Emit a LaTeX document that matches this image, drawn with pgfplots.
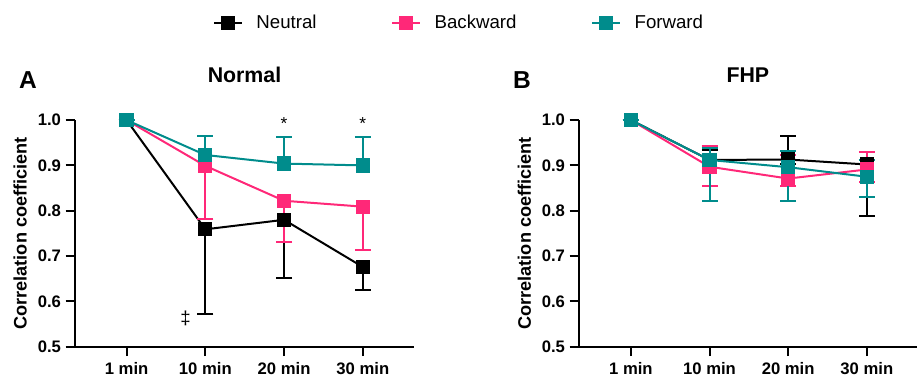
\documentclass[border=0pt]{standalone}
\usepackage{pgfplots}
\pgfplotsset{compat=1.18}
\usepackage{fontspec}
\setmainfont{Liberation Sans}
\definecolor{cpink}{RGB}{255,40,120}
\definecolor{cteal}{RGB}{0,140,140}
\pgfplotsset{
  panel/.style={
    scale only axis,
    width=254.25pt, height=170pt,
    xmin=-0.655, xmax=3.65, ymin=0.5, ymax=1.0,
    axis lines=left, axis line style={line width=1.5pt, -},
    xtick={0,1,2,3}, xticklabels={\textbf{1 min},\textbf{10 min},\textbf{20 min},\textbf{30 min}},
    ytick={0.5,0.6,0.7,0.8,0.9,1.0},
    yticklabels={\textbf{0.5},\textbf{0.6},\textbf{0.7},\textbf{0.8},\textbf{0.9},\textbf{1.0}},
    tick align=outside, major tick length=7pt,
    tick style={line width=1.5pt, black},
    ticklabel style={font=\fontsize{12.5}{14}\selectfont},
    xticklabel style={yshift=-1pt},
    ylabel={\textbf{Correlation coefficient}},
    ylabel style={at={(axis description cs:-0.162,0.5)}, anchor=center, font=\fontsize{13.6}{15}\selectfont},
    title style={at={(axis description cs:0.5,1.129)}, anchor=base, font=\fontsize{16}{18}\selectfont\bfseries},
    clip=false,
    every axis plot/.append style={line width=1.5pt, mark=square*, mark size=4.6pt,
      mark options={solid, line width=0.4pt},
      error bars/error bar style={line width=1.5pt},
      error bars/error mark options={rotate=90, mark size=6pt, line width=1.5pt}},
  },
}
\begin{document}
\begin{tikzpicture}
\path[use as bounding box] (0,0) rectangle (690pt,284.25pt);
\begin{axis}[panel, at={(56.25pt,24.2pt)}, anchor=south west, title={Normal},
  legend columns=3,
  legend style={draw=none, fill=none, at={(axis description cs:1.134,1.428)}, anchor=center,
    font=\fontsize{14}{16}\selectfont,
    /tikz/every odd column/.append style={column sep=8pt},
    /tikz/every even column/.append style={column sep=54pt}},
  legend image code/.code={\draw[mark repeat=2,mark phase=2,#1] plot coordinates {(0pt,0pt) (10.5pt,0pt) (21pt,0pt)};},
]
\addplot[black, mark options={fill=black}, error bars/.cd, y dir=minus, y explicit]
  table[x=x, y=y, y error minus=em] {
x y em
0 1.000 0
1 0.759 0.187
2 0.780 0.128
3 0.676 0.051
};
\addlegendentry{Neutral}
\addplot[cpink, mark options={fill=cpink}, error bars/.cd, y dir=minus, y explicit]
  table[x=x, y=y, y error minus=em] {
x y em
0 1.000 0
1 0.899 0.118
2 0.822 0.092
3 0.809 0.096
};
\addlegendentry{Backward}
\addplot[cteal, mark options={fill=cteal}, error bars/.cd, y dir=plus, y explicit]
  table[x=x, y=y, y error plus=ep] {
x y ep
0 1.000 0
1 0.923 0.041
2 0.904 0.058
3 0.900 0.062
};
\addlegendentry{Forward}
\node[font=\fontsize{13}{14}\selectfont, anchor=center] at (axis cs:2,0.992) {*};
\node[font=\fontsize{13}{14}\selectfont, anchor=center] at (axis cs:3,0.992) {*};
\node[font=\fontsize{14}{16}\selectfont, anchor=center] at (axis cs:0.75,0.562) {‡};
\node[font=\fontsize{18.4}{20}\selectfont\bfseries, anchor=base] at (axis description cs:-0.139,1.141) {A};
\end{axis}
\begin{axis}[panel, at={(434.25pt,24.2pt)}, anchor=south west, title={FHP}, width=253.3pt,
  xmin=-0.66, xmax=3.635]
\addplot[black, mark options={fill=black}, error bars/.cd, y dir=both, y explicit]
  table[x=x, y=y, y error plus=ep, y error minus=em] {
x y ep em
0 1.000 0 0
1 0.912 0.022 0.018
2 0.913 0.052 0.010
3 0.902 0.011 0.113
};
\addplot[cpink, mark options={fill=cpink}, error bars/.cd, y dir=both, y explicit]
  table[x=x, y=y, y error plus=ep, y error minus=em] {
x y ep em
0 1.000 0 0
1 0.897 0.046 0.043
2 0.871 0.052 0.016
3 0.891 0.038 0.028
};
\addplot[cteal, mark options={fill=cteal}, error bars/.cd, y dir=both, y explicit]
  table[x=x, y=y, y error plus=ep, y error minus=em] {
x y ep em
0 1.000 0 0
1 0.912 0.026 0.091
2 0.896 0.036 0.074
3 0.875 0.038 0.044
};
\node[font=\fontsize{18.4}{20}\selectfont\bfseries, anchor=base] at (axis description cs:-0.169,1.141) {B};
\end{axis}
\end{tikzpicture}
\end{document}
